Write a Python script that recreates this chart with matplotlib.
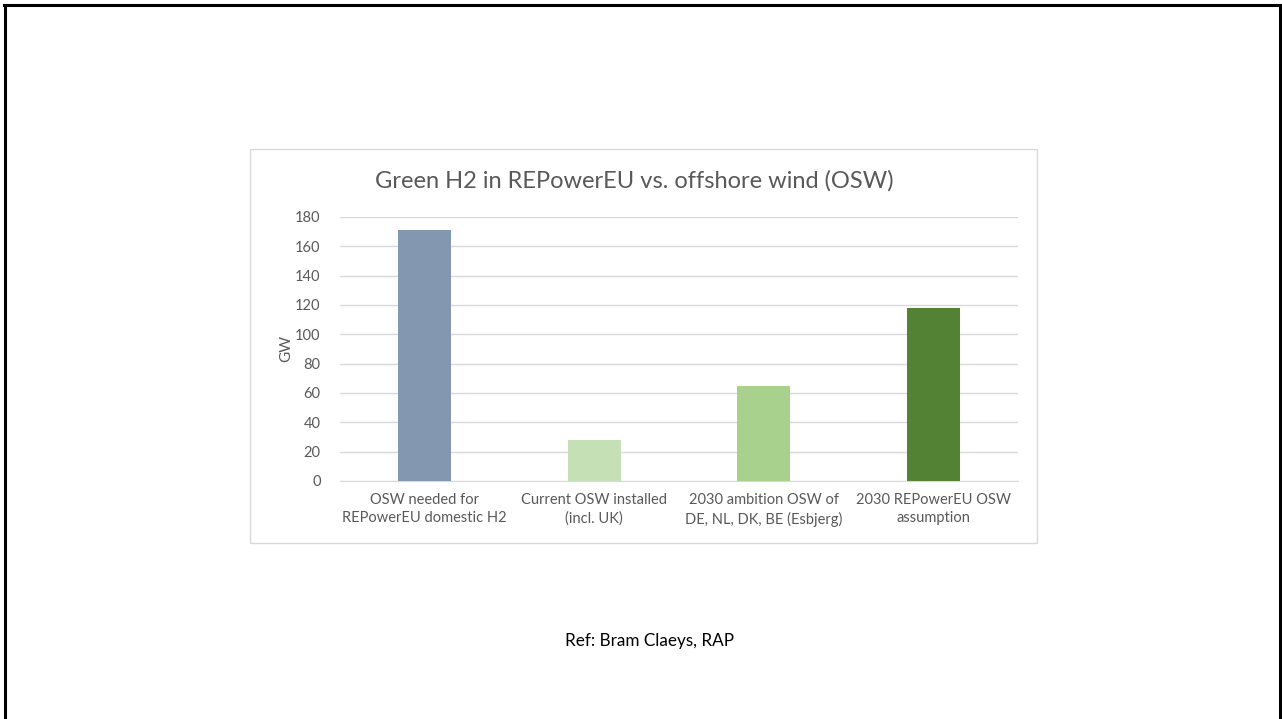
import matplotlib
matplotlib.use("Agg")
import matplotlib.pyplot as plt
from matplotlib.patches import Rectangle
from matplotlib.lines import Line2D

categories = [
    "OSW needed for\nREPowerEU domestic H2",
    "Current OSW installed\n(incl. UK)",
    "2030 ambition OSW of\nDE, NL, DK, BE (Esbjerg)",
    "2030 REPowerEU OSW\nassumption",
]
values_gw = [171, 28, 65, 118]
bar_colors = ["#8497b0", "#c5e0b4", "#a9d18e", "#548235"]
y_ticks = [0, 20, 40, 60, 80, 100, 120, 140, 160, 180]

W, H = 1282, 719
plt.rcParams["font.family"] = ["Lato", "DejaVu Sans"]
fig = plt.figure(figsize=(W / 100, H / 100), dpi=100)
fig.patch.set_facecolor("white")

def fx(px):
    return px / W

def fy(py):
    return 1 - py / H

# slide frame (left, top, right edges)
fig.add_artist(Line2D([fx(5), fx(5)], [fy(5), 0], color="black", lw=2.2))
fig.add_artist(Line2D([fx(4), fx(1280)], [fy(5), fy(5)], color="black", lw=2.2))
fig.add_artist(Line2D([fx(1280), fx(1280)], [fy(5), 0], color="black", lw=2.2))

# chart box, kept beneath the axes
fig.add_artist(Rectangle((fx(250), fy(543)), fx(1037) - fx(250), fy(149) - fy(543),
                         facecolor="white", edgecolor="#d9d9d9", lw=1.0, zorder=-5))

ax = fig.add_axes([fx(340), fy(481), fx(1018) - fx(340), fy(217) - fy(481)])
ax.set_zorder(2)
x = list(range(len(categories)))
ax.bar(x, values_gw, width=0.31, color=bar_colors, zorder=3)
ax.set_xlim(-0.5, len(categories) - 0.5)
ax.set_ylim(0, 180)
ax.set_yticks(y_ticks)
ax.yaxis.grid(True, color="#d9d9d9", lw=1.0, zorder=0)
ax.set_axisbelow(True)
for side in ["top", "right", "left"]:
    ax.spines[side].set_visible(False)
ax.spines["bottom"].set_color("#d9d9d9")
ax.tick_params(axis="both", length=0, colors="#595959", labelsize=10.5)
ax.tick_params(axis="y", pad=14)
ax.tick_params(axis="x", pad=9)
ax.set_xticks(x)
ax.set_xticklabels(categories, linespacing=1.35)
ax.set_facecolor("none")
ax.set_ylabel("GW", color="#595959", fontsize=11, labelpad=1)

fig.text(fx(634), fy(181), "Green H2 in REPowerEU vs. offshore wind (OSW)",
         ha="center", va="center", color="#595959", fontsize=17)
fig.text(fx(650), fy(641), "Ref: Bram Claeys, RAP", ha="center", va="center",
         color="black", fontsize=12.3)

fig.savefig("out.png", dpi=100, facecolor="white")
